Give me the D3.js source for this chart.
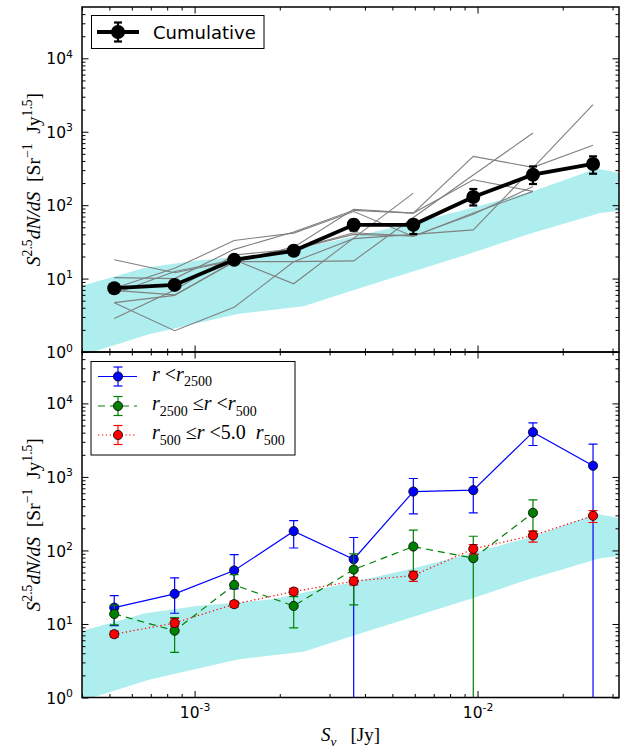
<!DOCTYPE html>
<html><head><meta charset="utf-8">
<script src="https://cdn.jsdelivr.net/npm/d3@7"></script>
<style>body{margin:0;background:#fff} text{white-space:pre}</style>
</head><body>
<svg id="c" width="623" height="749"></svg>
<script>
// ---------- data ----------
const fluxBins = [0.00052, 0.00085, 0.00138, 0.00224, 0.00365, 0.00593, 0.00966, 0.0157, 0.0256];

const cumVal = [7.4, 8.2, 18.0, 23.9, 54, 54, 129, 260, 364];
const cumLo  = [6.8, 7.5, 16.5, 21.5, 45, 40.4, 99, 194, 268];
const cumHi  = [8.0, 9.0, 19.5, 26.5, 63, 63, 166, 337, 462];

const grayLines = [
  [18.0, 12.0, 17.5, 26.8, 88, 78, 462, 327, 653],
  [10.3, 10.0, 25, 43, 85, 78, 222, 154, null],
  [7.4, 13.8, 33, 41.6, 82, 37.4, 78, 154, null],
  [6.9, 6.0, 17, 17, 17.4, 68, 257, 960, null],
  [6.2, 12.5, 18, 8.5, 35.6, 146, null, null, null],
  [4.7, 1.95, 4.07, 16.9, 35, 40, 46, 321, 2340],
  [2.85, 7.0, 21, 25, 42, 38, null, null, null],
  [4.7, 5.9, 17, 25, 40, 38, 75, 180, null]
];

const blueVal = [16.7, 25.7, 53.3, 183, 76, 632, 661, 4066, 1416];
const blueLo  = [9.5, 14, 30, 108, 0, 315, 325, 2673, 0];
const blueHi  = [24.3, 42.4, 87.9, 255, 150, 951, 982, 5440, 2793];

const greenVal = [13.7, 8.1, 34, 17.6, 55, 113, 78.5, 325];
const greenLo  = [9.7, 4.1, 20, 8.85, 18.2, 45.6, 0, 181];
const greenHi  = [18, 12.2, 47, 23.6, 90, 189, 156, 488];

const redVal = [7.26, 10.3, 18.6, 27.6, 38.2, 45.6, 105, 160, 296];
const redLo  = [6.6, 9.2, 17, 25, 34, 38, 90, 130, 240];
const redHi  = [8.0, 11.8, 20.5, 30.5, 43, 52, 120, 185, 349];

const bandUpperX = [0.0004, 0.00067, 0.00102, 0.00189, 0.0037, 0.0059, 0.0096, 0.0157, 0.0264, 0.03162];
const bandUpperY = [8.0, 14, 17.6, 21.7, 37.7, 57, 92, 155, 315, 275];
const bandLowerX = [0.0004, 0.00069, 0.00142, 0.00243, 0.0037, 0.0096, 0.0150, 0.0271, 0.03162];
const bandLowerY = [0.9, 1.74, 3.3, 4.2, 7.1, 22.4, 39.8, 78.5, 84];

const xMajor = [1e-3, 1e-2];
const xMajorLabels = [["10", "-3"], ["10", "-2"]];
const yMajor = [1, 10, 100, 1000, 10000];
const yMajorLabels = [["10","0"],["10","1"],["10","2"],["10","3"],["10","4"]];

// ---------- layout ----------
const L = 82, R = 619;
const panels = [{top: 7, bot: 352}, {top: 352, bot: 697.5}];
const svg = d3.select("#c");
const x = d3.scaleLog().domain([4.0e-4, 3.162e-2]).range([L, R]);

const xMinor = [];
for (let e = -4; e <= -2; e++) for (let m = 2; m <= 9; m++) { const v = m * Math.pow(10, e); if (v >= 4.0e-4 && v <= 3.162e-2) xMinor.push(v); }
const yMinor = [];
for (let e = 0; e <= 4; e++) for (let m = 2; m <= 9; m++) { const v = m * Math.pow(10, e); if (v < 5e4) yMinor.push(v); }

function rich(sel, parts, size) {
  let shift = 0;
  parts.forEach(p => {
    const ts = sel.append("tspan").text(p.t);
    const target = p.sup ? -0.42 * size : (p.sub ? 0.28 * size : 0);
    if (target - shift !== 0) ts.attr("dy", target - shift);
    shift = target;
    if (p.sup || p.sub) ts.attr("font-size", (p.fs || 0.7) * size);
    if (p.it) ts.attr("font-style", "italic");
  });
}

const defs = svg.append("defs");
panels.forEach((P, i) => {
  P.y = d3.scaleLog().domain([1, 5e4]).range([P.bot, P.top]);
  defs.append("clipPath").attr("id", "clip" + i).append("rect")
    .attr("x", L).attr("y", P.top).attr("width", R - L).attr("height", P.bot - P.top);
  P.g = svg.append("g").attr("clip-path", `url(#clip${i})`);
  const poly = bandUpperX.map((v, k) => [v, bandUpperY[k]])
    .concat(bandLowerX.map((v, k) => [v, bandLowerY[k]]).reverse());
  P.g.append("path").attr("d", d3.line().x(d => x(d[0])).y(d => P.y(d[1]))(poly) + "Z")
    .attr("fill", "#afeeee").attr("stroke", "none");
});

function errSeries(P, g, vals, lo, hi, color, lw, capW, r, dash, lineW, edge) {
  const pts = vals.map((v, k) => ({x: fluxBins[k], v, lo: lo[k], hi: hi[k]}));
  g.append("path").attr("d", d3.line().x(d => x(d.x)).y(d => P.y(d.v))(pts))
    .attr("fill", "none").attr("stroke", color).attr("stroke-width", lineW)
    .attr("stroke-dasharray", dash || null);
  pts.forEach(d => {
    const xx = x(d.x);
    const y1 = d.lo > 0 ? P.y(d.lo) : P.bot + 2;
    const y2 = P.y(d.hi);
    g.append("line").attr("x1", xx).attr("x2", xx).attr("y1", y1).attr("y2", y2)
      .attr("stroke", color).attr("stroke-width", lw);
    [d.lo > 0 ? y1 : null, y2].forEach(yc => {
      if (yc === null) return;
      g.append("line").attr("x1", xx - capW).attr("x2", xx + capW).attr("y1", yc).attr("y2", yc)
        .attr("stroke", color).attr("stroke-width", lw);
    });
  });
  pts.forEach(d => {
    g.append("circle").attr("cx", x(d.x)).attr("cy", P.y(d.v)).attr("r", r)
      .attr("fill", color).attr("stroke", edge ? "#000" : "none").attr("stroke-width", 0.8);
  });
}

// ---------- top panel ----------
{
  const P = panels[0];
  grayLines.forEach(arr => {
    const pts = arr.map((v, k) => ({x: fluxBins[k], v})).filter(d => d.v !== null);
    P.g.append("path").attr("d", d3.line().x(d => x(d.x)).y(d => P.y(d.v))(pts))
      .attr("fill", "none").attr("stroke", "#808080").attr("stroke-width", 1.1);
  });
  errSeries(P, P.g, cumVal, cumLo, cumHi, "#000", 2.2, 4, 7, null, 3.8, false);
}
// ---------- bottom panel ----------
{
  const P = panels[1];
  errSeries(P, P.g, blueVal, blueLo, blueHi, "#0000ff", 1.2, 4.5, 4.6, null, 1.2, true);
  errSeries(P, P.g, greenVal, greenLo, greenHi, "#008000", 1.2, 4.5, 4.6, "7,5", 1.2, true);
  errSeries(P, P.g, redVal, redLo, redHi, "#ff0000", 1.2, 4.5, 4.6, "1.3,2.6", 1.2, true);
}

// ---------- axes ----------
panels.forEach((P, i) => {
  const mk = (axisFn, scale, vals, size, pos, labels) => {
    const a = axisFn(scale).tickValues(vals).tickSizeInner(-size).tickSizeOuter(0).tickPadding(8);
    if (!labels) a.tickFormat(() => "");
    const g = svg.append("g").attr("transform", pos).call(a);
    g.select(".domain").remove();
    g.selectAll(".tick line").attr("stroke", "#000").attr("stroke-width", 1);
    return g;
  };
  const gl = mk(d3.axisLeft, P.y, yMajor, 6.5, `translate(${L},0)`, true);
  gl.selectAll(".tick text").each(function(d, k) {
    const t = d3.select(this).text(null).attr("font-family", "DejaVu Sans").attr("font-size", 15.5)
      .attr("fill", "#000").attr("x", -9).attr("dy", "0.36em");
    rich(t, [{t: yMajorLabels[k][0]}, {t: yMajorLabels[k][1], sup: true}], 15.5);
  });
  mk(d3.axisLeft, P.y, yMinor, 3.5, `translate(${L},0)`, false);
  mk(d3.axisRight, P.y, yMajor, 6.5, `translate(${R},0)`, false);
  mk(d3.axisRight, P.y, yMinor, 3.5, `translate(${R},0)`, false);
  mk(d3.axisTop, x, xMajor, 6.5, `translate(0,${P.top})`, false);
  mk(d3.axisTop, x, xMinor, 3.5, `translate(0,${P.top})`, false);
  const gb = mk(d3.axisBottom, x, xMajor, 6.5, `translate(0,${P.bot})`, i === 1);
  mk(d3.axisBottom, x, xMinor, 3.5, `translate(0,${P.bot})`, false);
  if (i === 1) {
    gb.selectAll(".tick text").each(function(d, k) {
      const t = d3.select(this).text(null).attr("font-family", "DejaVu Sans").attr("font-size", 15.5)
        .attr("fill", "#000").attr("y", 9.5).attr("dy", "0.71em");
      rich(t, [{t: xMajorLabels[k][0]}, {t: xMajorLabels[k][1], sup: true}], 15.5);
    });
  } else {
    gb.selectAll(".tick text").remove();
  }
  svg.append("rect").attr("x", L).attr("y", P.top).attr("width", R - L).attr("height", P.bot - P.top)
    .attr("fill", "none").attr("stroke", "#000").attr("stroke-width", 1.5);

  const yl = svg.append("text").attr("transform", `translate(40,${(P.top + P.bot) / 2}) rotate(-90)`)
    .attr("text-anchor", "middle").attr("font-family", "Liberation Serif").attr("font-size", 19.5).attr("fill", "#000");
  rich(yl, [{t: "S", it: true}, {t: "2.5", sup: true}, {t: "dN/dS", it: true}, {t: "\u00a0\u00a0[Sr"},
            {t: "\u22121", sup: true}, {t: "\u00a0\u00a0Jy"}, {t: "1.5", sup: true}, {t: "]"}], 19.5);
});

// x label
{
  const xl = svg.append("text").attr("x", 350.5).attr("y", 741).attr("text-anchor", "middle")
    .attr("font-family", "Liberation Serif").attr("font-size", 19).attr("fill", "#000");
  rich(xl, [{t: "S", it: true}, {t: "\u03bd", sub: true, it: true}, {t: "\u00a0\u00a0\u00a0[Jy]"}], 19);
}

// ---------- legends ----------
{
  const g = svg.append("g");
  g.append("rect").attr("x", 91.5).attr("y", 15.5).attr("width", 172.5).attr("height", 33)
    .attr("fill", "#fff").attr("stroke", "#000").attr("stroke-width", 1);
  const cy = 32, cx = 118;
  g.append("line").attr("x1", 97).attr("x2", 139).attr("y1", cy).attr("y2", cy).attr("stroke", "#000").attr("stroke-width", 3.8);
  g.append("line").attr("x1", cx).attr("x2", cx).attr("y1", cy - 9.5).attr("y2", cy + 9.5).attr("stroke", "#000").attr("stroke-width", 2.2);
  [cy - 9.5, cy + 9.5].forEach(yc => g.append("line").attr("x1", cx - 4).attr("x2", cx + 4).attr("y1", yc).attr("y2", yc).attr("stroke", "#000").attr("stroke-width", 2.2));
  g.append("circle").attr("cx", cx).attr("cy", cy).attr("r", 7).attr("fill", "#000");
  g.append("text").attr("x", 153).attr("y", cy + 6.5).attr("font-family", "DejaVu Sans").attr("font-size", 18).attr("fill", "#000").text("Cumulative");
}
{
  const g = svg.append("g");
  g.append("rect").attr("x", 91).attr("y", 361.5).attr("width", 204).attr("height", 93.5)
    .attr("fill", "#fff").attr("stroke", "#000").attr("stroke-width", 1);
  const entries = [
    {c: "#0000ff", dash: null, y: 376.5, parts: [{t: "r", it: true}, {t: "\u00a0<"}, {t: "r", it: true}, {t: "2500", sub: true}]},
    {c: "#008000", dash: "7,5", y: 406, parts: [{t: "r", it: true}, {t: "2500", sub: true}, {t: "\u00a0\u2264"}, {t: "r", it: true}, {t: "\u00a0<"}, {t: "r", it: true}, {t: "500", sub: true}]},
    {c: "#ff0000", dash: "1.3,2.6", y: 435, parts: [{t: "r", it: true}, {t: "500", sub: true}, {t: "\u00a0\u2264"}, {t: "r", it: true}, {t: "\u00a0<5.0\u00a0\u00a0"}, {t: "r", it: true}, {t: "500", sub: true}]}
  ];
  entries.forEach(e => {
    const cx = 118;
    g.append("line").attr("x1", 98).attr("x2", 137).attr("y1", e.y).attr("y2", e.y).attr("stroke", e.c).attr("stroke-width", 1.2).attr("stroke-dasharray", e.dash);
    g.append("line").attr("x1", cx).attr("x2", cx).attr("y1", e.y - 9.5).attr("y2", e.y + 9.5).attr("stroke", e.c).attr("stroke-width", 1.2);
    [e.y - 9.5, e.y + 9.5].forEach(yc => g.append("line").attr("x1", cx - 4.5).attr("x2", cx + 4.5).attr("y1", yc).attr("y2", yc).attr("stroke", e.c).attr("stroke-width", 1.2));
    g.append("circle").attr("cx", cx).attr("cy", e.y).attr("r", 4.6).attr("fill", e.c).attr("stroke", "#000").attr("stroke-width", 0.8);
    const t = g.append("text").attr("x", 152).attr("y", e.y + 4).attr("font-family", "Liberation Serif").attr("font-size", 20).attr("fill", "#000");
    rich(t, e.parts, 20);
  });
}
</script>
</body></html>
